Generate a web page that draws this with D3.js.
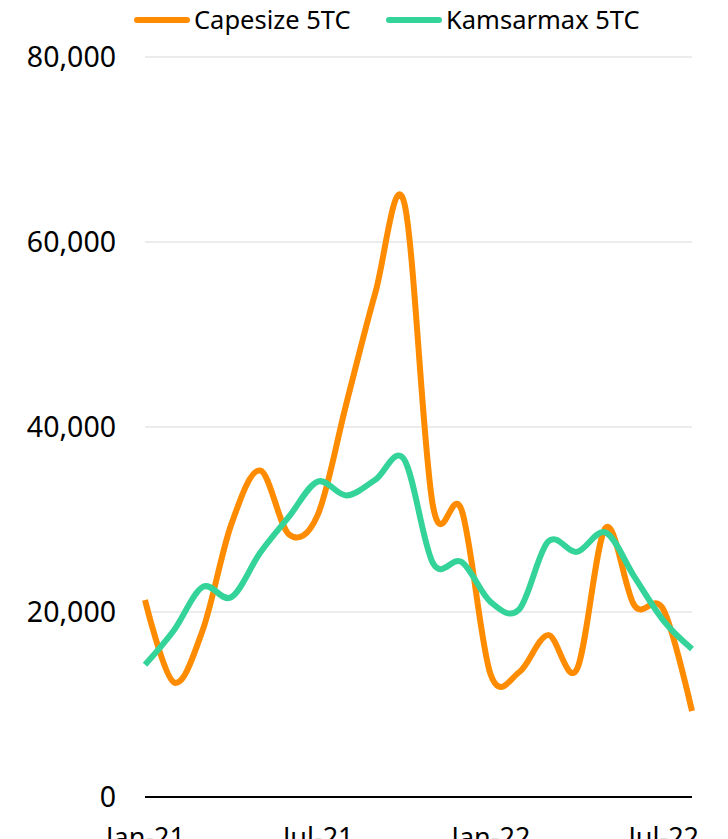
<!DOCTYPE html>
<html>
<head>
<meta charset="utf-8">
<script src="https://cdn.jsdelivr.net/npm/d3@7"></script>
<style>
  body { margin: 0; background: #fff; }
  svg { display: block; }
</style>
</head>
<body>
<div id="chart"></div>
<script>
// monthly averages, Jan-21 .. Aug-22
let months = ["Jan-21","Feb-21","Mar-21","Apr-21","May-21","Jun-21","Jul-21","Aug-21","Sep-21","Oct-21",
              "Nov-21","Dec-21","Jan-22","Feb-22","Mar-22","Apr-22","May-22","Jun-22","Jul-22","Aug-22"];
let capesize = [21300, 12400, 18000, 29500, 35300, 28400, 30500, 42600, 54500, 64300,
                31500, 31000, 13300, 13500, 17500, 13800, 29100, 20700, 20300, 9300];
let kamsarmax = [14300, 18000, 22700, 21600, 26400, 30300, 34100, 32600, 34300, 36500,
                 25300, 25400, 21100, 20300, 27600, 26500, 28600, 23800, 19100, 16000];
let yTicks = [0, 20000, 40000, 60000, 80000];
let xTickLabels = ["Jan-21", "Jul-21", "Jan-22", "Jul-22"];

let seriesList = [
    {name: "Capesize 5TC", values: capesize, color: "#ff8c00"},
    {name: "Kamsarmax 5TC", values: kamsarmax, color: "#34d399"}
];

let width = 728, height = 839,
    margin = {top: 57, right: 36, bottom: 42, left: 145},
    fontFamily = "'Noto Sans', sans-serif";

let svg = d3.select("#chart").append("svg")
    .attr("width", width)
    .attr("height", height)
    .style("font-family", fontFamily);

let x = d3.scalePoint()
    .domain(months)
    .range([margin.left, width - margin.right]);

let y = d3.scaleLinear()
    .domain([0, 80000])
    .range([height - margin.bottom, margin.top]);

// gridlines
svg.append("g")
    .selectAll("line")
    .data(yTicks.filter(d => d > 0))
    .join("line")
    .attr("x1", margin.left)
    .attr("x2", width - margin.right)
    .attr("y1", d => y(d))
    .attr("y2", d => y(d))
    .attr("stroke", "#d9d9d9")
    .attr("stroke-width", 1);

// y axis labels
let yAxis = d3.axisLeft(y)
    .tickValues(yTicks)
    .tickFormat(d3.format(","))
    .tickSize(0)
    .tickPadding(29);
svg.append("g")
    .attr("transform", `translate(${margin.left},0)`)
    .call(yAxis)
    .call(g => g.select(".domain").remove())
    .selectAll("text")
    .attr("font-family", fontFamily)
    .attr("font-size", 28.5)
    .attr("fill", "#000");

// x axis
let xAxis = d3.axisBottom(x)
    .tickValues(xTickLabels)
    .tickSize(0)
    .tickPadding(31);
svg.append("g")
    .attr("transform", `translate(0,${y(0)})`)
    .call(xAxis)
    .call(g => g.select(".domain")
        .attr("d", `M${margin.left},0H${width - margin.right}`)
        .attr("stroke", "#000")
        .attr("stroke-width", 2))
    .selectAll("text")
    .attr("font-family", fontFamily)
    .attr("font-size", 27)
    .attr("fill", "#000");

// lines
let line = d3.line()
    .x((d, i) => x(months[i]))
    .y(d => y(d))
    .curve(d3.curveCardinal.tension(0));

svg.append("g")
    .selectAll("path")
    .data(seriesList)
    .join("path")
    .attr("d", d => line(d.values))
    .attr("fill", "none")
    .attr("stroke", d => d.color)
    .attr("stroke-width", 6)
    .attr("stroke-linejoin", "round");

// legend
let legendPos = [135, 387];
let legend = svg.append("g")
    .selectAll("g")
    .data(seriesList)
    .join("g")
    .attr("transform", (d, i) => `translate(${legendPos[i]},20)`);
legend.append("line")
    .attr("x1", 2).attr("x2", 52)
    .attr("stroke", d => d.color)
    .attr("stroke-width", 6)
    .attr("stroke-linecap", "round");
legend.append("text")
    .attr("x", 59)
    .attr("dy", "0.35em")
    .attr("font-size", 25.5)
    .attr("fill", "#000")
    .text(d => d.name);
</script>
</body>
</html>
